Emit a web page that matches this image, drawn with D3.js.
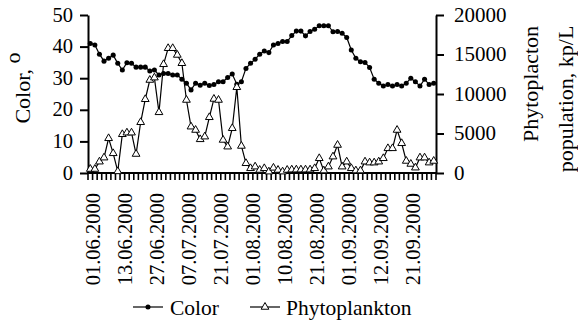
<!DOCTYPE html>
<html>
<head>
<meta charset="utf-8">
<script src="https://cdn.jsdelivr.net/npm/d3@7"></script>
</head>
<body style="margin:0">
<svg id="chart" width="578" height="324"></svg>
<script>
// Water colour (degrees) and phytoplankton population (kp/L), one value per sampling day
const colorValues = [
  41.0, 40.5, 37.6, 35.4, 36.3, 37.3, 34.7, 32.6, 34.9, 34.7,
  33.5, 33.5, 33.5, 32.3, 32.6, 31.0, 31.5, 31.5, 31.0, 31.0,
  29.7, 28.4, 26.3, 28.4, 27.8, 28.4, 27.7,
  28.0, 28.9, 28.9, 30.2, 31.3, 28.1, 28.9, 33.1, 34.7, 36.0,
  37.6, 38.6, 38.1, 40.5, 41.0, 41.6, 41.6, 43.5, 44.9, 44.9,
  43.4, 44.8, 45.5,
  46.6, 46.6, 46.6, 44.7, 44.8, 44.2, 42.9, 38.9, 36.3, 35.2,
  35.0, 33.4, 29.7, 28.4, 27.5, 28.0, 27.5, 28.0, 27.5, 28.4,
  30.0, 28.9, 27.5, 29.7, 28.0, 28.4
];

const phytoValues = [
  500, 500, 1430, 1940, 4390, 2490, 200, 4900, 5100, 5100,
  2400, 6420, 9330, 11770, 12070, 7680, 13760, 15790, 15790, 14940,
  13890, 9240, 5860, 5440, 4260, 4600, 7050,
  9370, 9240, 4180, 3330, 5660, 10850, 3420, 1230, 590, 800,
  380, 590, 170, 650, 380, 170, 380, 420, 420, 420,
  420, 420, 590,
  1860, 300, 800, 2070, 3540, 800, 1430, 590, 300, 300,
  1430, 1310, 1310, 1430, 1860, 3120, 3120, 5440, 3760, 1520,
  1140, 670, 1940, 1940, 1310, 1520
];

// Every seventh sampling day carries a date label
const tickLabels = [
  "01.06.2000", "13.06.2000", "27.06.2000", "07.07.2000", "21.07.2000",
  "01.08.2000", "10.08.2000", "21.08.2000", "01.09.2000", "12.09.2000",
  "21.09.2000"
];
const labelStep = 7;

const colorTicks = [0, 10, 20, 30, 40, 50];
const phytoTicks = [0, 5000, 10000, 15000, 20000];

const svg = d3.select("#chart");
const plot = { left: 88, right: 436, top: 15, bottom: 173 };

function serifText(parent, o) {
  const t = parent.append("text")
    .attr("transform", `translate(${o.x},${o.y}) rotate(${o.rotate || 0})`)
    .attr("font-size", o.size || 21)
    .style("font-family", "'Liberation Serif'")
    .attr("fill", "#000")
    .attr("text-anchor", o.anchor || "start")
    .attr("dy", o.dy || "0.35em");
  if (o.text != null) t.text(o.text);
  return t;
}

const idx = d3.range(colorValues.length);
const x = d3.scaleBand().domain(idx).range([plot.left, plot.right]).padding(0);
const cx = i => x(i) + x.bandwidth() / 2;
const yL = d3.scaleLinear().domain([0, 50]).range([plot.bottom, plot.top]);
const yR = d3.scaleLinear().domain([0, 20000]).range([plot.bottom, plot.top]);

// Value axes: lines from d3, labels set in serif
const tickLen = 8;
const gL = svg.append("g").attr("transform", `translate(${plot.left},0)`)
  .call(d3.axisLeft(yL).tickValues(colorTicks).tickFormat("").tickSize(tickLen).tickSizeOuter(0));
const gR = svg.append("g").attr("transform", `translate(${plot.right},0)`)
  .call(d3.axisRight(yR).tickValues(phytoTicks).tickFormat("").tickSize(tickLen).tickSizeOuter(0));
[gL, gR].forEach(g => {
  g.select(".domain").attr("stroke", "#000").attr("stroke-width", 2);
  g.selectAll(".tick line").attr("stroke", "#000").attr("stroke-width", 2);
  g.selectAll(".tick text").remove();
});
colorTicks.forEach(t => serifText(svg, {
  x: plot.left - tickLen - 7, y: yL(t), anchor: "end", dy: "0.32em", size: 20.5,
  text: d3.format("d")(t)
}));
phytoTicks.forEach(t => serifText(svg, {
  x: plot.right + tickLen + 10, y: yR(t), anchor: "start", dy: "0.32em", size: 21,
  text: d3.format("d")(t)
}));

// Category axis along the bottom, tick marks between sampling days
const gX = svg.append("g");
gX.append("line")
  .attr("x1", plot.left - 1).attr("x2", plot.right + 1)
  .attr("y1", plot.bottom).attr("y2", plot.bottom)
  .attr("stroke", "#000").attr("stroke-width", 2);
const boundaries = d3.range(colorValues.length + 1).map(i => plot.left + i * x.step());
gX.selectAll("line.tk").data(boundaries).join("line").attr("class", "tk")
  .attr("x1", d => d).attr("x2", d => d)
  .attr("y1", plot.bottom).attr("y2", plot.bottom + 7)
  .attr("stroke", "#000").attr("stroke-width", 1.6);

tickLabels.forEach((lbl, i) => serifText(gX, {
  x: cx(i * labelStep), y: plot.bottom + 20, rotate: -90, anchor: "end", dy: "0.45em",
  size: 20.5, text: lbl
}));

// Series lines
const colorLine = d3.line().x((d, i) => cx(i)).y(d => yL(d));
const phytoLine = d3.line().x((d, i) => cx(i)).y(d => yR(d));

svg.append("path").datum(colorValues).attr("d", colorLine)
  .attr("fill", "none").attr("stroke", "#000").attr("stroke-width", 1.2);
svg.append("g").selectAll("path").data(colorValues).join("path")
  .attr("d", d3.symbol(d3.symbolCircle, 20))
  .attr("transform", (d, i) => `translate(${cx(i)},${yL(d)})`)
  .attr("fill", "#000");

svg.append("path").datum(phytoValues).attr("d", phytoLine)
  .attr("fill", "none").attr("stroke", "#000").attr("stroke-width", 1.2);
svg.append("g").selectAll("path").data(phytoValues).join("path")
  .attr("d", d3.symbol(d3.symbolTriangle, 26))
  .attr("transform", (d, i) => `translate(${cx(i)},${yR(d)})`)
  .attr("fill", "#fff").attr("stroke", "#000").attr("stroke-width", 1);

// Axis titles
const tL = serifText(svg, { x: 22, y: 88, rotate: -90, anchor: "middle", size: 22 });
tL.append("tspan").text("Color, ");
tL.append("tspan").attr("font-size", 22).attr("dy", "-0.45em").text("o");

serifText(svg, { x: 530, y: 84, rotate: -90, anchor: "middle", size: 22, text: "Phytoplacton" });
serifText(svg, { x: 565, y: 99, rotate: -90, anchor: "middle", size: 22, text: "population, kp/L" });

// Legend
const legY = 307;
const leg = svg.append("g");
leg.append("line").attr("x1", 133).attr("x2", 163).attr("y1", legY).attr("y2", legY)
  .attr("stroke", "#000").attr("stroke-width", 1.2);
leg.append("path").attr("d", d3.symbol(d3.symbolCircle, 20))
  .attr("transform", `translate(148,${legY})`).attr("fill", "#000");
serifText(leg, { x: 170, y: legY, size: 21.5, text: "Color" });

leg.append("line").attr("x1", 250).attr("x2", 280).attr("y1", legY).attr("y2", legY)
  .attr("stroke", "#000").attr("stroke-width", 1.2);
leg.append("path").attr("d", d3.symbol(d3.symbolTriangle, 26))
  .attr("transform", `translate(265,${legY})`).attr("fill", "#fff")
  .attr("stroke", "#000").attr("stroke-width", 1);
serifText(leg, { x: 286, y: legY, size: 21.5, text: "Phytoplankton" });
</script>
</body>
</html>
